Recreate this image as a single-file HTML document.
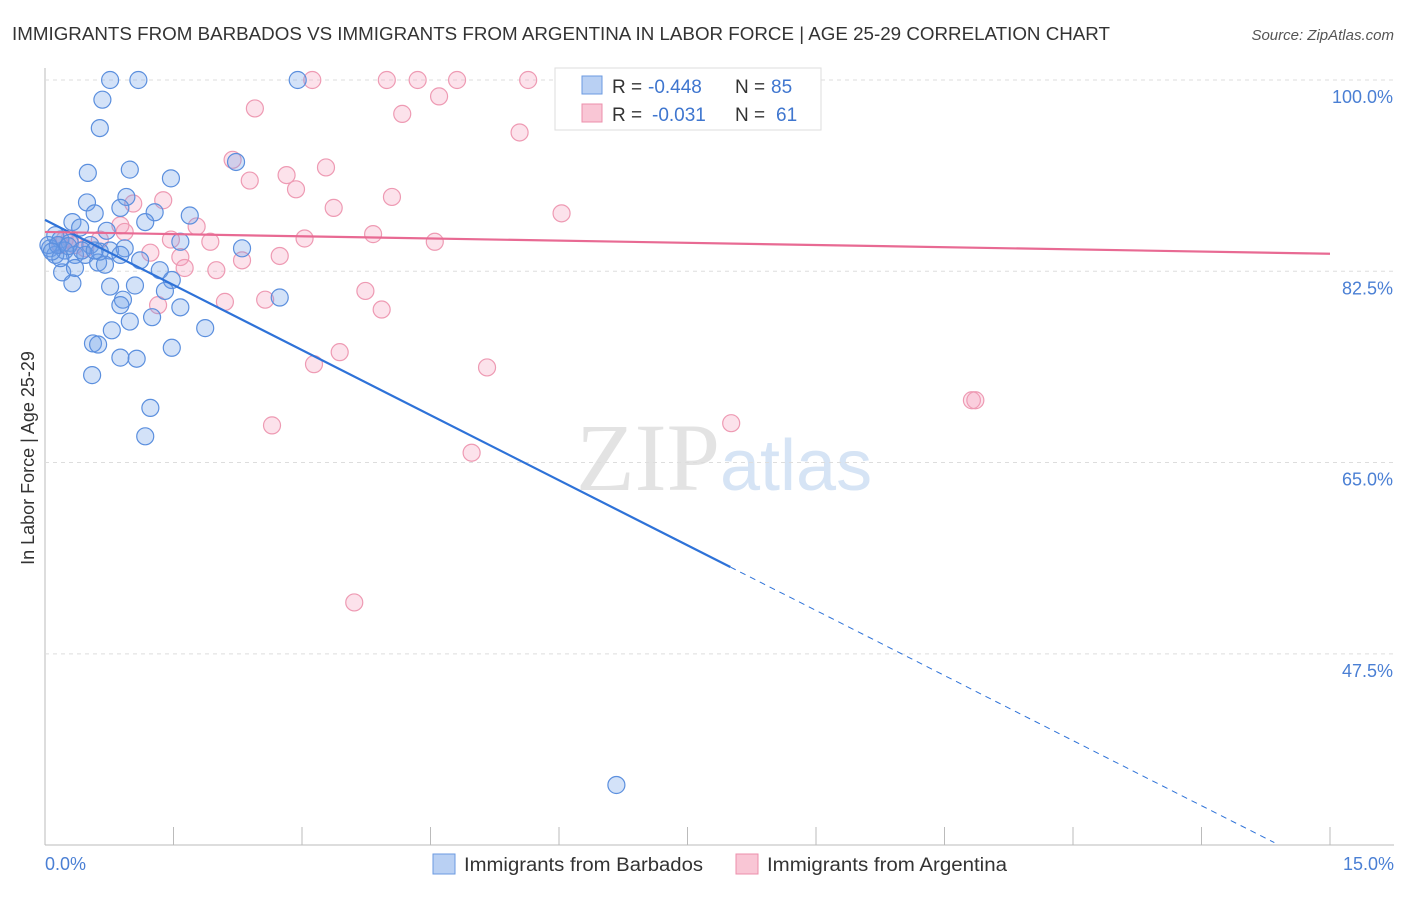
<!DOCTYPE html>
<html><head><meta charset="utf-8"><style>
body{margin:0;background:#fff;font-family:"Liberation Sans",sans-serif}
</style></head><body>
<svg id="c" width="1406" height="892" xmlns="http://www.w3.org/2000/svg" font-family="Liberation Sans, sans-serif">
<text x="12" y="40" font-size="18" fill="#333" textLength="1098" lengthAdjust="spacingAndGlyphs">IMMIGRANTS FROM BARBADOS VS IMMIGRANTS FROM ARGENTINA IN LABOR FORCE | AGE 25-29 CORRELATION CHART</text>
<text x="1394" y="40" font-size="15" fill="#555" font-style="italic" text-anchor="end">Source: ZipAtlas.com</text>
<text x="720" y="490" font-size="96" fill="#e3e3e3" text-anchor="end" font-family="Liberation Serif, serif">ZIP</text>
<text x="720" y="490" font-size="72" fill="#d6e4f5">atlas</text>
<text transform="translate(34,458) rotate(-90)" font-size="18" fill="#333" text-anchor="middle">In Labor Force | Age 25-29</text>
<g id="grid"></g><g id="pts"></g><g id="lines"></g>
<rect x="555" y="68" width="266" height="62" fill="#fff" stroke="#ddd"/>
<rect x="582" y="76" width="20" height="18" fill="#b9d0f3" stroke="#6b9ae0"/>
<rect x="582" y="104" width="20" height="18" fill="#f9c6d5" stroke="#ec8fab"/>
<g font-size="19">
<text x="612" y="93" fill="#333">R =</text><text x="648" y="93" fill="#3f76cf">-0.448</text>
<text x="735" y="93" fill="#333">N =</text><text x="771" y="93" fill="#3f76cf">85</text></g>
<g font-size="19">
<text x="612" y="121" fill="#333">R =</text><text x="652" y="121" fill="#3f76cf">-0.031</text>
<text x="735" y="121" fill="#333">N =</text><text x="776" y="121" fill="#3f76cf">61</text></g>
<text x="45" y="870" font-size="18" fill="#4a7fd4">0.0%</text>
<text x="1394" y="870" font-size="18" fill="#4a7fd4" text-anchor="end">15.0%</text>
<rect x="433" y="854" width="22" height="20" fill="#b9d0f3" stroke="#6b9ae0"/>
<text x="464" y="871" font-size="19" fill="#333" textLength="239" lengthAdjust="spacingAndGlyphs">Immigrants from Barbados</text>
<rect x="736" y="854" width="22" height="20" fill="#f9c6d5" stroke="#ec8fab"/>
<text x="767" y="871" font-size="19" fill="#333" textLength="240" lengthAdjust="spacingAndGlyphs">Immigrants from Argentina</text>
</svg>
<script>
const yTicks=[100,82.5,65,47.5];
const yTickLabels=["100.0%","82.5%","65.0%","47.5%"];
const blueX=[0.76,1.09,2.95,0.67,0.64,0.99,0.50,1.47,2.23,0.95,0.49,1.28,1.69,0.88,0.58,1.17,0.32,0.41,0.72,0.12,0.18,0.29,0.53,0.76,2.30,1.58,0.93,0.23,0.06,0.35,0.47,0.62,0.88,1.11,0.70,0.20,0.35,0.64,1.34,1.48,0.32,0.76,1.05,1.40,0.91,0.88,2.74,1.58,1.25,0.99,1.87,0.78,0.56,0.62,1.48,0.88,1.07,0.55,1.23,1.17,6.67,0.12,0.18,0.04,0.15,0.27,0.43,0.08,0.58];
const blueY=[100,100,100,98.2,95.6,91.8,91.5,91.0,92.5,89.3,88.8,87.9,87.6,88.3,87.8,87.0,87.0,86.5,86.2,85.8,85.4,85.1,84.9,84.4,84.6,85.2,84.6,84.4,84.6,84.0,84.0,83.3,84.0,83.5,83.1,82.4,82.8,84.3,82.6,81.7,81.4,81.1,81.2,80.7,79.9,79.4,80.1,79.2,78.3,77.9,77.3,77.1,75.9,75.8,75.5,74.6,74.5,73.0,70.0,67.4,35.5,84.0,83.7,84.9,84.9,84.8,84.4,84.3,84.4];
const pinkX=[3.12,3.99,4.35,4.81,5.64,8.95,6.24,4.60,2.45,4.17,5.54,2.19,3.28,2.82,2.39,2.93,4.05,3.37,6.03,1.38,1.03,1.77,0.88,0.93,3.03,3.83,4.55,1.47,1.93,0.64,1.23,1.58,2.30,2.74,2.00,1.63,0.35,0.47,3.74,2.57,2.10,1.32,3.93,3.44,3.14,5.16,10.82,10.86,8.01,2.65,4.98,3.61,0.18,0.23,0.29];
const pinkY=[100,100,100,100,100,100,99.5,98.5,97.4,96.9,95.2,92.7,92.0,91.3,90.8,90.0,89.3,88.3,87.8,89.0,88.7,86.6,86.7,86.1,85.5,85.9,85.2,85.4,85.2,85.4,84.2,83.8,83.5,83.9,82.6,82.8,84.9,84.6,80.7,79.9,79.7,79.4,79.0,75.1,74.0,73.7,70.7,70.7,68.6,68.4,65.9,52.2,84.9,85.4,85.5];
const blueLine=[87.2,-3.97];
const pinkLine=[86.1,-0.133];
const NS="http://www.w3.org/2000/svg";
const sx=v=>45+v*(1285/15);
const sy=v=>80+(100-v)*10.93;
function mk(t,a,p){const e=document.createElementNS(NS,t);for(const k in a)e.setAttribute(k,a[k]);p.appendChild(e);return e;}
const grid=document.getElementById('grid');
let ax=mk('line',{x1:45,y1:68,x2:45,y2:845,stroke:'#bbb'},grid);


let bx=mk('line',{x1:45,y1:845,x2:1394,y2:845,stroke:'#bbb'},grid);


for(let i=0;i<=10;i++){const t=mk('line',{x1:sx(i*1.5),y1:845,x2:sx(i*1.5),y2:827,stroke:'#bbb'},grid);

}
yTicks.forEach((v,i)=>{const g=mk('line',{x1:45,y1:sy(v),x2:1394,y2:sy(v),stroke:'#ddd','stroke-dasharray':'4,4'},grid);


const t=mk('text',{x:1393,y:sy(v)+23,'font-size':18,fill:'#4a7fd4','text-anchor':'end'},grid);t.textContent=yTickLabels[i];

});
const pts=document.getElementById('pts');
pinkX.forEach((x,i)=>{const c=mk('circle',{cx:sx(x),cy:sy(pinkY[i]),r:8.5,fill:'rgba(244,160,188,0.3)',stroke:'#ee9ab3','stroke-width':1.2},pts);

});
blueX.forEach((x,i)=>{const c=mk('circle',{cx:sx(x),cy:sy(blueY[i]),r:8.5,fill:'rgba(110,160,232,0.3)',stroke:'#5b8fde','stroke-width':1.2},pts);

});
const L=document.getElementById('lines');
const bf=x=>blueLine[0]+blueLine[1]*x, pf=x=>pinkLine[0]+pinkLine[1]*x;
let l1=mk('line',{x1:sx(0),y1:sy(bf(0)),x2:sx(8),y2:sy(bf(8)),stroke:'#2e72d8','stroke-width':2.2},L);


let l2=mk('line',{x1:sx(8),y1:sy(bf(8)),x2:sx(14.35),y2:sy(bf(14.35)),stroke:'#2e72d8','stroke-width':1,'stroke-dasharray':'6,5'},L);


let l3=mk('line',{x1:sx(0),y1:sy(pf(0)),x2:sx(15),y2:sy(pf(15)),stroke:'#e86a93','stroke-width':2.2},L);


</script>
</body></html>
